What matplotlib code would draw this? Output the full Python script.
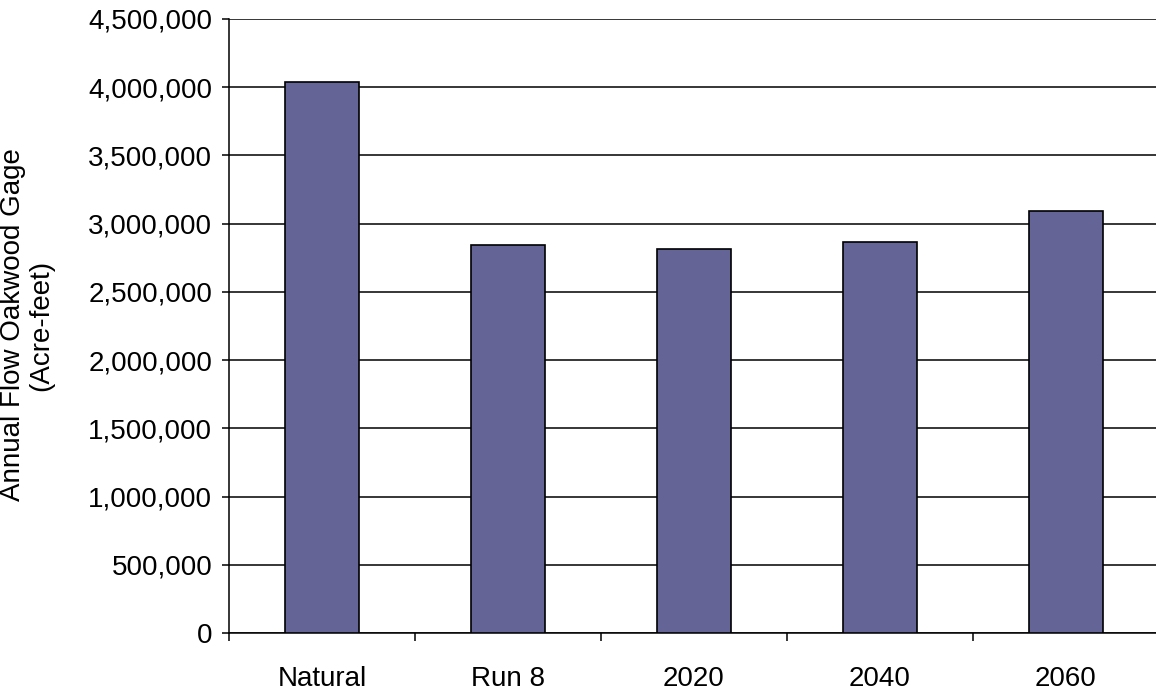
import numpy as np
import matplotlib
matplotlib.use('Agg')
import matplotlib.pyplot as plt
from matplotlib.ticker import FuncFormatter, FixedLocator

# Annual flow at Oakwood gage per scenario
scenarios = ['Natural', 'Run 8', '2020', '2040', '2060']
flow_acre_feet = [4040000, 2840000, 2815000, 2862000, 3090000]

plt.rcParams['font.family'] = ['Liberation Sans', 'DejaVu Sans']

fig = plt.figure(figsize=(11.56, 6.92), dpi=100)
ax = fig.add_axes([229 / 1156, 1 - 633 / 692, 930 / 1156, (633 - 19) / 692])

x = np.arange(len(scenarios))
ax.bar(x, flow_acre_feet, width=0.4, color='#646496', edgecolor='black',
       linewidth=1.2, zorder=3)

ax.set_xlim(-0.5, len(scenarios) - 0.5)
ax.set_ylim(0, 4500000)
ax.set_yticks(np.arange(0, 4500001, 500000))
ax.yaxis.set_major_formatter(FuncFormatter(lambda v, p: f'{int(v):,}'))
ax.grid(axis='y', color='black', linewidth=1.1, zorder=1)

# category labels centred, tick marks on category boundaries
ax.set_xticks(x)
ax.set_xticklabels(scenarios)
ax.xaxis.set_minor_locator(FixedLocator(np.arange(-0.5, len(scenarios), 1.0)))
ax.tick_params(axis='x', which='major', length=0, pad=24, labelsize=20)
ax.tick_params(axis='x', which='minor', length=6, width=1.1, direction='out')
ax.tick_params(axis='y', length=5, width=1.1, pad=7, labelsize=20)

for side in ['top', 'right']:
    ax.spines[side].set_visible(False)
for side in ['left', 'bottom']:
    ax.spines[side].set_linewidth(1.1)

fig.text(27 / 1156, 1 - 325 / 692, 'Annual Flow Oakwood Gage\n(Acre-feet)',
         rotation=90, ha='center', va='center', fontsize=20, linespacing=1.1)

fig.savefig('out.png', dpi=100)
